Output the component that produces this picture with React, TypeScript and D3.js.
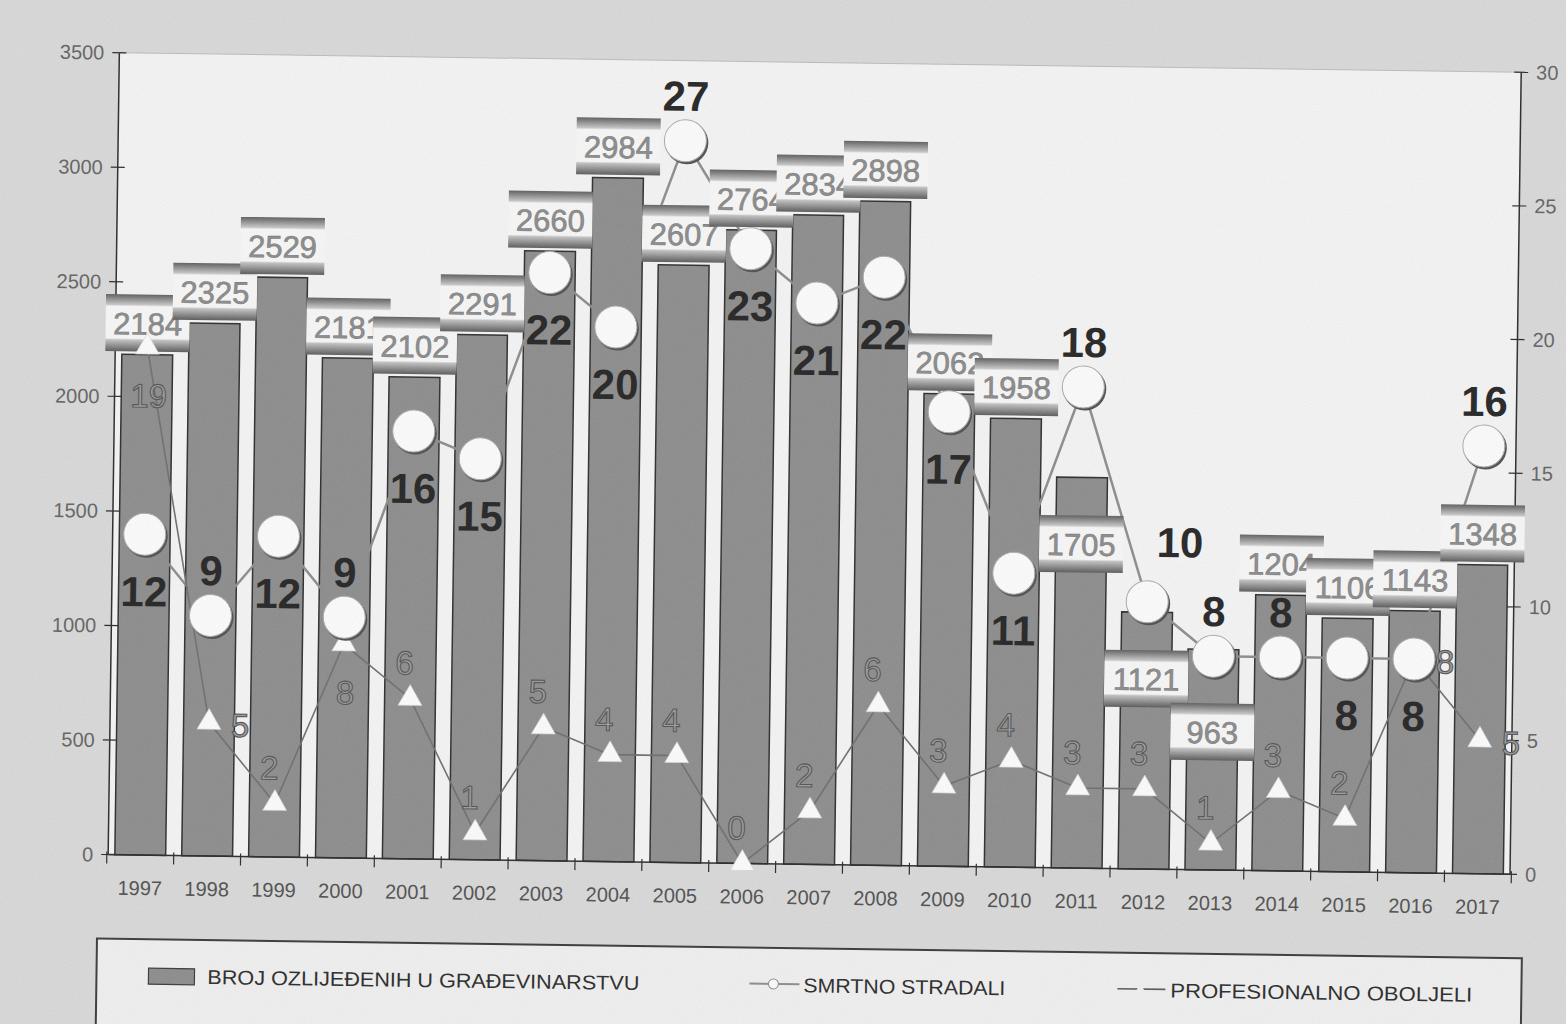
import { useEffect, useRef } from 'react';
import * as d3 from 'd3';

const years = [
  '1997', '1998', '1999', '2000', '2001', '2002', '2003', '2004', '2005', '2006', '2007',
  '2008', '2009', '2010', '2011', '2012', '2013', '2014', '2015', '2016', '2017',
];
const injured = [
  2184, 2325, 2529, 2181, 2102, 2291, 2660, 2984, 2607, 2764, 2834,
  2898, 2062, 1958, 1705, 1121, 963, 1204, 1106, 1143, 1348,
];
const deaths = [12, 9, 12, 9, 16, 15, 22, 20, 27, 23, 21, 22, 17, 11, 18, 10, 8, 8, 8, 8, 16];
const diseases = [19, 5, 2, 8, 6, 1, 5, 4, 4, 0, 2, 6, 3, 4, 3, 3, 1, 3, 2, 8, 5];

const leftTicks = [0, 500, 1000, 1500, 2000, 2500, 3000, 3500];
const rightTicks = [0, 5, 10, 15, 20, 25, 30];
const seriesNames = ['BROJ OZLIJEĐENIH U GRAĐEVINARSTVU', 'SMRTNO STRADALI', 'PROFESIONALNO OBOLJELI'];

// where the value labels sit relative to their marker (layout only)
const deathSide = ['b', 'a', 'b', 'a', 'b', 'b', 'b', 'b', 'a', 'b', 'b', 'b', 'b', 'b', 'a', 'ar', 'a', 'a', 'b', 'b', 'a'];
const diseaseSide = ['b', 'r', 'a', 'b', 'a', 'a', 'a', 'a', 'a', 'a', 'a', 'a', 'a', 'a', 'a', 'a', 'a', 'a', 'a', 'r', 'r'];
// bar labels that were pushed down into the bar in the original (px)
const droppedLabels: Record<string, number> = { '2011': 98, '2012': 98, '2013': 114 };

const FONT = '"Liberation Sans", Arial, Helvetica, sans-serif';

export default function App() {
  const svgRef = useRef<SVGSVGElement>(null);

  useEffect(() => {
    if (!svgRef.current) return;
    const W = 1566;
    const H = 1024;
    const L = 113;
    const R = 1515;
    const T = 62;
    const B = 864;

    const svg = d3.select(svgRef.current);
    svg.selectAll('*').remove();
    svg.attr('width', W).attr('height', H).attr('viewBox', `0 0 ${W} ${H}`);

    const defs = svg.append('defs');
    const grad = defs
      .append('linearGradient')
      .attr('id', 'boxGrad')
      .attr('x1', 0)
      .attr('y1', 0)
      .attr('x2', 0)
      .attr('y2', 1);
    const stops: [number, string][] = [
      [0, '#5a5a5a'],
      [0.18, '#c8c8c8'],
      [0.21, '#fafafa'],
      [0.77, '#fafafa'],
      [0.8, '#c2c2c2'],
      [1, '#555555'],
    ];
    stops.forEach(([o, c]) => grad.append('stop').attr('offset', o).attr('stop-color', c));

    const grain = defs
      .append('filter')
      .attr('id', 'grain')
      .attr('x', 0)
      .attr('y', 0)
      .attr('width', '100%')
      .attr('height', '100%');
    grain
      .append('feTurbulence')
      .attr('type', 'fractalNoise')
      .attr('baseFrequency', 0.9)
      .attr('numOctaves', 2)
      .attr('seed', 4);
    grain
      .append('feColorMatrix')
      .attr('type', 'matrix')
      .attr('values', '0.33 0.33 0.33 0 0  0.33 0.33 0.33 0 0  0.33 0.33 0.33 0 0  0 0 0 0 1');

    svg.append('rect').attr('width', W).attr('height', H).attr('fill', '#dadada');

    // the scan is slightly tilted
    const g = svg.append('g').attr('transform', 'rotate(0.8 783 512)');

    const x = d3.scaleBand<string>().domain(years).range([L, R]).paddingInner(0.24).paddingOuter(0.1);
    const yL = d3.scaleLinear().domain([0, 3500]).range([B, T]);
    const yR = d3.scaleLinear().domain([0, 30]).range([B, T]);
    const cx = (i: number) => (x(years[i]) ?? 0) + x.bandwidth() / 2;
    const step = x.step();

    // plot area
    g.append('rect')
      .attr('x', L)
      .attr('y', T)
      .attr('width', R - L)
      .attr('height', B - T)
      .attr('fill', '#f7f7f7');

    // bars
    g.selectAll('rect.bar')
      .data(injured)
      .enter()
      .append('rect')
      .attr('class', 'bar')
      .attr('x', (_, i) => x(years[i]) ?? 0)
      .attr('y', (d) => yL(d))
      .attr('width', x.bandwidth())
      .attr('height', (d) => B - yL(d))
      .attr('fill', '#8a8a8a')
      .attr('stroke', '#262626')
      .attr('stroke-width', 1.5);

    // axes
    g.append('line').attr('x1', L).attr('x2', L).attr('y1', T).attr('y2', B).attr('stroke', '#222').attr('stroke-width', 1.5);
    g.append('line').attr('x1', R).attr('x2', R).attr('y1', T).attr('y2', B).attr('stroke', '#222').attr('stroke-width', 1.5);
    g.append('line').attr('x1', L).attr('x2', R).attr('y1', B).attr('y2', B).attr('stroke', '#222').attr('stroke-width', 1.5);
    g.append('line').attr('x1', L).attr('x2', R).attr('y1', T).attr('y2', T).attr('stroke', '#bbb').attr('stroke-width', 1);

    leftTicks.forEach((t) => {
      g.append('line').attr('x1', L - 7).attr('x2', L + 7).attr('y1', yL(t)).attr('y2', yL(t)).attr('stroke', '#222').attr('stroke-width', 1.2);
      g.append('text')
        .attr('x', L - 15)
        .attr('y', yL(t) + 7)
        .attr('text-anchor', 'end')
        .attr('font-family', FONT)
        .attr('font-size', 20)
        .attr('fill', '#5e5e5e')
        .text(t);
    });
    rightTicks.forEach((t) => {
      g.append('line').attr('x1', R - 7).attr('x2', R + 7).attr('y1', yR(t)).attr('y2', yR(t)).attr('stroke', '#222').attr('stroke-width', 1.2);
      g.append('text')
        .attr('x', R + 15)
        .attr('y', yR(t) + 7)
        .attr('text-anchor', 'start')
        .attr('font-family', FONT)
        .attr('font-size', 20)
        .attr('fill', '#5e5e5e')
        .text(t);
    });
    d3.range(years.length + 1).forEach((i) => {
      const tx = L + step * (x.paddingOuter() - x.paddingInner() / 2) + i * step;
      g.append('line').attr('x1', tx).attr('x2', tx).attr('y1', B - 3).attr('y2', B + 9).attr('stroke', '#222').attr('stroke-width', 1.2);
    });
    years.forEach((yr, i) => {
      g.append('text')
        .attr('x', cx(i))
        .attr('y', B + 40)
        .attr('text-anchor', 'middle')
        .attr('font-family', FONT)
        .attr('font-size', 20)
        .attr('fill', '#4a4a4a')
        .text(yr);
    });

    // lines
    const seriesLine = d3
      .line<number>()
      .x((_, i) => cx(i))
      .y((d) => yR(d));
    g.append('path').attr('d', seriesLine(deaths) ?? '').attr('fill', 'none').attr('stroke', '#8a8a8a').attr('stroke-width', 2.5);
    g.append('path').attr('d', seriesLine(diseases) ?? '').attr('fill', 'none').attr('stroke', '#6a6a6a').attr('stroke-width', 1.6);

    // bar value boxes
    const boxW = 84;
    const boxH = 57;
    injured.forEach((v, i) => {
      const drop = droppedLabels[years[i]] ?? 0;
      const top = yL(v) - 3 - boxH + drop;
      const bg = g.append('g');
      bg.append('rect')
        .attr('x', cx(i) - boxW / 2)
        .attr('y', top)
        .attr('width', boxW)
        .attr('height', boxH)
        .attr('fill', 'url(#boxGrad)');
      bg.append('text')
        .attr('x', cx(i))
        .attr('y', top + 40)
        .attr('text-anchor', 'middle')
        .attr('font-family', FONT)
        .attr('font-size', 31)
        .attr('fill', '#8a8a8a')
        .attr('stroke', '#777')
        .attr('stroke-width', 0.6)
        .text(v);
    });

    // disease labels and triangles
    const tri = d3.symbol().type(d3.symbolTriangle).size(250);
    diseases.forEach((v, i) => {
      g.append('path')
        .attr('d', tri() ?? '')
        .attr('transform', `translate(${cx(i)},${yR(v)})`)
        .attr('fill', '#ffffff')
        .attr('stroke', '#d0d0d0')
        .attr('stroke-width', 0.6);
      const side = diseaseSide[i];
      let lx = cx(i) - 6;
      let ly = yR(v) - 24;
      let anchor = 'middle';
      if (side === 'b') {
        lx = cx(i) + 2;
        ly = yR(v) + 60;
      } else if (side === 'r') {
        lx = cx(i) + 22;
        ly = yR(v) + 14;
        anchor = 'start';
      }
      g.append('text')
        .attr('x', lx)
        .attr('y', ly)
        .attr('text-anchor', anchor)
        .attr('font-family', FONT)
        .attr('font-size', 33)
        .attr('fill', '#9a9a9a')
        .attr('stroke', '#4e4e4e')
        .attr('stroke-width', 1.1)
        .text(v);
    });

    // death markers and labels
    deaths.forEach((v, i) => {
      g.append('circle').attr('cx', cx(i) + 1.5).attr('cy', yR(v) + 2).attr('r', 21.5).attr('fill', '#4a4a4a');
      g.append('circle').attr('cx', cx(i)).attr('cy', yR(v)).attr('r', 21).attr('fill', '#ffffff').attr('stroke', '#a8a8a8').attr('stroke-width', 1);
    });
    deaths.forEach((v, i) => {
      const side = deathSide[i];
      let lx = cx(i);
      let ly = yR(v) - 30;
      if (side === 'b') ly = yR(v) + 72;
      if (side === 'ar') {
        lx = cx(i) + 32;
        ly = yR(v) - 45;
      }
      g.append('text')
        .attr('x', lx)
        .attr('y', ly)
        .attr('text-anchor', 'middle')
        .attr('font-family', FONT)
        .attr('font-size', 42)
        .attr('font-weight', 'bold')
        .attr('fill', '#1c1c1c')
        .text(v);
    });

    // legend
    const lg = g.append('g');
    lg.append('rect')
      .attr('x', 103)
      .attr('y', 948)
      .attr('width', 1425)
      .attr('height', 130)
      .attr('fill', '#f2f2f2')
      .attr('stroke', '#333')
      .attr('stroke-width', 2);
    lg.append('rect').attr('x', 155).attr('y', 977).attr('width', 46).attr('height', 16).attr('fill', '#8a8a8a').attr('stroke', '#333').attr('stroke-width', 1.2);
    lg.append('line').attr('x1', 756).attr('x2', 806).attr('y1', 984).attr('y2', 984).attr('stroke', '#8a8a8a').attr('stroke-width', 2);
    lg.append('circle').attr('cx', 780).attr('cy', 984).attr('r', 5).attr('fill', '#fff').attr('stroke', '#888');
    lg.append('line').attr('x1', 1124).attr('x2', 1172).attr('y1', 984).attr('y2', 984).attr('stroke', '#555').attr('stroke-width', 1.6);
    lg.append('path')
      .attr('d', d3.symbol().type(d3.symbolTriangle).size(40)() ?? '')
      .attr('transform', 'translate(1147,984)')
      .attr('fill', '#f2f2f2');
    const legendText: [string, number, number][] = [
      [seriesNames[0], 214, 432],
      [seriesNames[1], 810, 202],
      [seriesNames[2], 1177, 302],
    ];
    legendText.forEach(([t, lx, len]) => {
      lg.append('text')
        .attr('x', lx)
        .attr('y', 992)
        .attr('font-family', FONT)
        .attr('font-size', 20)
        .attr('fill', '#222')
        .attr('textLength', len)
        .attr('lengthAdjust', 'spacingAndGlyphs')
        .text(t);
    });

    // scan grain
    svg.append('rect')
      .attr('width', W)
      .attr('height', H)
      .attr('filter', 'url(#grain)')
      .attr('opacity', 0.1)
      .style('pointer-events', 'none');
  }, []);

  return (
    <div style={{ position: 'absolute', left: 0, top: 0, width: 1566, height: 1024, overflow: 'hidden', background: '#dadada' }}>
      <svg ref={svgRef} style={{ display: 'block' }} />
    </div>
  );
}
